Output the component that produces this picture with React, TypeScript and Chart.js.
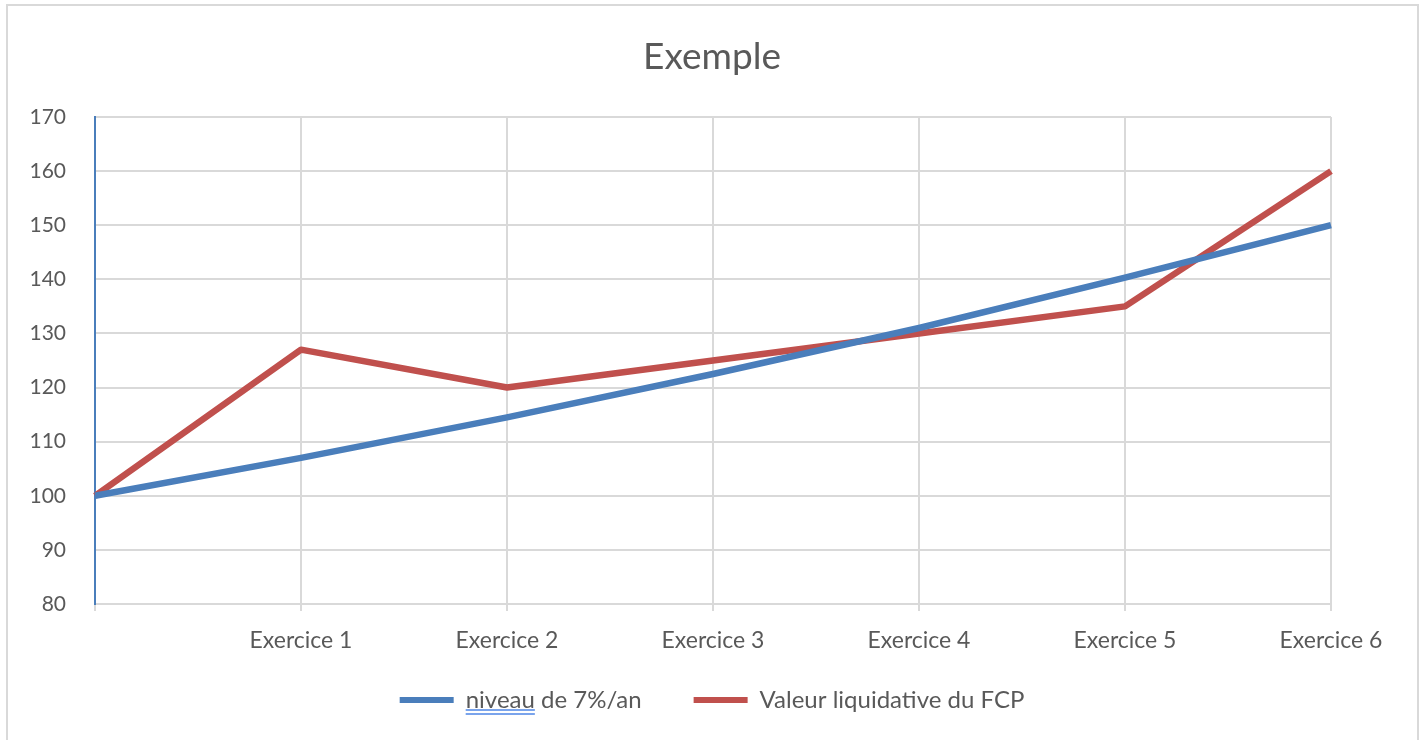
import React, { useEffect, useRef } from "react";
import { Chart, registerables } from "chart.js";

Chart.register(...registerables);

const categories = ["", "Exercice 1", "Exercice 2", "Exercice 3", "Exercice 4", "Exercice 5", "Exercice 6"];
const niveau = [100, 107, 114.5, 122.5, 131, 140.3, 150];
const valeur = [100, 127, 120, 125, 130, 135, 160];
const seriesNames = ["niveau de 7%/an", "Valeur liquidative du FCP"];
const yMin = 80;
const yMax = 170;
const yStep = 10;
const title = "Exemple";

const BLUE = "#4a7ebb";
const RED = "#c0504d";
const GRID = "#d9d9d9";
const TEXT = "#595959";
const FONT = "Lato";
const LEGEND_SIZE = 24;
const LEGEND_PAD = 52;
const LEGEND_SHIFT = 18;

const legendTweak = {
  id: "legendTweak",
  afterUpdate(chart: any) {
    const lg = chart.legend;
    if (!lg) return;
    lg.top -= LEGEND_SHIFT;
    lg.bottom -= LEGEND_SHIFT;
  },
  afterDraw(chart: any) {
    const legend = chart.legend;
    if (!legend || !legend.legendHitBoxes || !legend.legendHitBoxes[0]) return;
    const hb = legend.legendHitBoxes[0];
    const opts = legend.options.labels;
    const ctx = chart.ctx;
    ctx.save();
    ctx.font = `${LEGEND_SIZE}px ${FONT}`;
    const word = "niveau";
    const w = ctx.measureText(word).width;
    const x0 = hb.left + opts.boxWidth + LEGEND_SIZE / 2;
    const yc = legend.top + LEGEND_PAD + LEGEND_SIZE / 2;
    ctx.strokeStyle = "#4f86e6";
    ctx.lineWidth = 1.6;
    ctx.beginPath();
    ctx.moveTo(x0, yc + 10);
    ctx.lineTo(x0 + w, yc + 10);
    ctx.moveTo(x0, yc + 14);
    ctx.lineTo(x0 + w, yc + 14);
    ctx.stroke();
    ctx.restore();
  },
};

export default function App() {
  const ref = useRef<HTMLCanvasElement | null>(null);
  useEffect(() => {
    if (!ref.current) return;
    const chart = new Chart(ref.current, {
      type: "line",
      data: {
        labels: categories,
        datasets: [
          {
            label: seriesNames[0],
            data: niveau,
            borderColor: BLUE,
            backgroundColor: BLUE,
            borderWidth: 6.5,
            pointRadius: 0,
            tension: 0,
            borderJoinStyle: "round",
          },
          {
            label: seriesNames[1],
            data: valeur,
            borderColor: RED,
            backgroundColor: RED,
            borderWidth: 6.5,
            pointRadius: 0,
            tension: 0,
            borderJoinStyle: "round",
          },
        ],
      },
      options: {
        responsive: false,
        animation: false,
        layout: { padding: { left: 0, right: 0, top: 0, bottom: 0 } },
        plugins: {
          title: {
            display: true,
            text: title,
            color: TEXT,
            font: { family: FONT, size: 37, weight: "normal" },
            padding: { top: 35, bottom: 37.6 },
          },
          legend: {
            position: "bottom",
            labels: {
              color: TEXT,
              font: { family: FONT, size: LEGEND_SIZE },
              boxWidth: 54,
              boxHeight: 6,
              padding: LEGEND_PAD,
              generateLabels: (chart: any) =>
                chart.data.datasets.map((ds: any, i: number) => ({
                  text: ds.label,
                  fillStyle: ds.borderColor,
                  strokeStyle: ds.borderColor,
                  lineWidth: 0,
                  hidden: false,
                  datasetIndex: i,
                  fontColor: TEXT,
                })),
            },
          },
          tooltip: { enabled: false },
        },
        scales: {
          x: {
            offset: false,
            grid: {
              color: (c: any) => (c.index === 0 ? "rgba(0,0,0,0)" : GRID),
              tickColor: GRID,
              lineWidth: 2,
              tickLength: 7,
              drawTicks: true,
            },
            border: { display: true, color: GRID, width: 2 },
            ticks: {
              color: TEXT,
              font: { family: FONT, size: 23 },
              maxRotation: 0,
              autoSkip: false,
              padding: 16,
            },
            afterFit: (scale: any) => {
              scale.height = 50;
            },
          },
          y: {
            min: yMin,
            max: yMax,
            ticks: {
              stepSize: yStep,
              color: TEXT,
              font: { family: FONT, size: 21 },
              padding: 29,
            },
            grid: { color: GRID, lineWidth: 2, drawTicks: false },
            border: { display: true, color: BLUE, width: 2 },
            afterFit: (scale: any) => {
              scale.width = 95;
            },
          },
          yRightSpace: {
            position: "right",
            display: true,
            grid: { display: false, drawTicks: false },
            border: { display: false },
            ticks: { display: false },
            afterFit: (scale: any) => {
              scale.width = 93;
            },
          },
        },
      },
      plugins: [legendTweak],
    } as any);
    return () => chart.destroy();
  }, []);

  return (
    <div style={{ position: "fixed", left: 0, top: 0, width: 1424, height: 740, overflow: "hidden", background: "#fff" }}>
      <div
        style={{
          position: "absolute",
          left: 6,
          top: 4,
          width: 1413,
          height: 800,
          border: `2px solid ${GRID}`,
          boxSizing: "border-box",
        }}
      />
      <canvas ref={ref} width={1424} height={740} style={{ position: "absolute", left: 0, top: 0 }} />
    </div>
  );
}
